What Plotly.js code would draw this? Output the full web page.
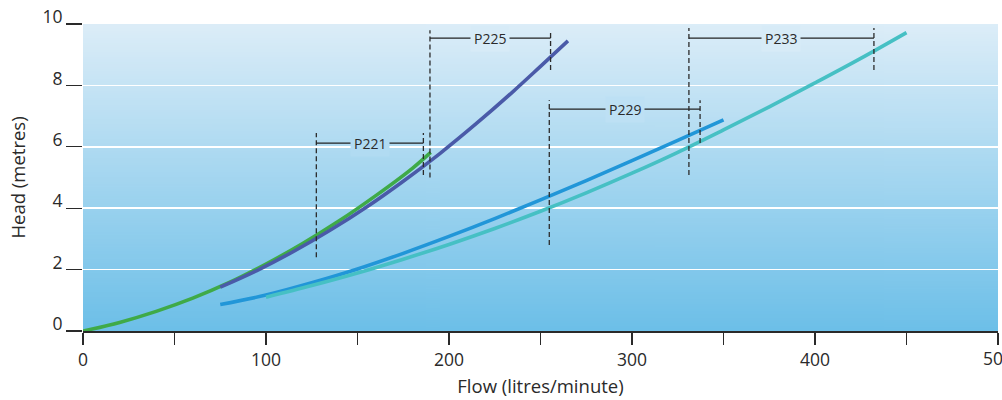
<!DOCTYPE html>
<html>
<head>
<meta charset="utf-8">
<script src="https://cdn.plot.ly/plotly-3.0.1.min.js"></script>
<style>html,body{margin:0;padding:0;background:#fff;}#chart{width:1002px;height:400px;}</style>
</head>
<body>
<div id="chart"></div>
<script>
// ---- data ----
var p221Flow = [0, 20, 40, 60, 80, 100, 120, 140, 160, 180, 190];
var p221Head = [0, 0.28, 0.64, 1.07, 1.58, 2.18, 2.85, 3.59, 4.41, 5.30, 5.82];

var p225Flow = [75, 95, 115, 135, 155, 175, 195, 215, 235, 250, 265];
var p225Head = [1.43, 1.97, 2.59, 3.28, 4.04, 4.88, 5.78, 6.76, 7.80, 8.62, 9.45];

var p229Flow = [75, 100, 125, 150, 175, 200, 225, 250, 275, 300, 325, 350];
var p229Head = [0.86, 1.17, 1.57, 2.02, 2.53, 3.08, 3.66, 4.27, 4.90, 5.55, 6.21, 6.88];

var p233Flow = [100, 125, 150, 175, 200, 225, 250, 275, 300, 325, 350, 375, 400, 425, 450];
var p233Head = [1.10, 1.48, 1.89, 2.34, 2.82, 3.34, 3.90, 4.50, 5.14, 5.82, 6.55, 7.30, 8.08, 8.88, 9.72];

// operating-range brackets
var pumpNames   = ['P221', 'P225', 'P229', 'P233'];
var rangeLo     = [127.5, 189.6, 254.8, 331.1];
var rangeHi     = [186.0, 255.5, 337.2, 432.2];
var bracketHead = [6.12, 9.54, 7.23, 9.54];
var lineTop     = [6.45, 9.80, 7.52, 9.87];
var loBottom    = [2.40, 5.00, 2.80, 5.08];
var hiBottom    = [5.08, 8.50, 6.12, 8.50];

var xTickVals = [0, 50, 100, 150, 200, 250, 300, 350, 400, 450, 500];
var xTickText = ['0', '', '100', '', '200', '', '300', '', '400', '', ''];
var xEdgeLabelVal = 500, xEdgeLabelText = '500';
var yTickVals = [0, 2, 4, 6, 8, 10];

// ---- styling ----
var colors = ['#3faa48', '#4a5aa8', '#2196d8', '#46c0c4'];
var bgTop = [220, 237, 248], bgBottom = [108, 191, 232];
var FONT = 'Open Sans, sans-serif';
var TXT = '#2a2a2a';

function bgAt(frac) { // frac: 0 bottom .. 1 top
  var c = bgBottom.map(function (b, i) { return Math.round(b + (bgTop[i] - b) * frac); });
  return 'rgb(' + c.join(',') + ')';
}

var cv = document.createElement('canvas');
cv.width = 4; cv.height = 256;
var ctx = cv.getContext('2d');
var g = ctx.createLinearGradient(0, 0, 0, 256);
g.addColorStop(0, bgAt(1));
g.addColorStop(1, bgAt(0));
ctx.fillStyle = g;
ctx.fillRect(0, 0, 4, 256);
var bgUrl = cv.toDataURL('image/png');

var series = [[p221Flow, p221Head], [p225Flow, p225Head], [p229Flow, p229Head], [p233Flow, p233Head]];
var traces = series.map(function (s, i) {
  return {
    x: s[0], y: s[1], type: 'scatter', mode: 'lines', name: pumpNames[i],
    line: {color: colors[i], width: 3.6, shape: 'spline', smoothing: 1},
    hoverinfo: 'x+y+name'
  };
});

var shapes = [], annotations = [];
var dashStyle = {color: '#2b2b2b', width: 1.3, dash: '5px,3px'};
for (var i = 0; i < pumpNames.length; i++) {
  shapes.push({type: 'line', xref: 'x', yref: 'y', x0: rangeLo[i], x1: rangeLo[i], y0: loBottom[i], y1: lineTop[i], line: dashStyle, layer: 'above'});
  shapes.push({type: 'line', xref: 'x', yref: 'y', x0: rangeHi[i], x1: rangeHi[i], y0: hiBottom[i], y1: lineTop[i], line: dashStyle, layer: 'above'});
  shapes.push({type: 'line', xref: 'x', yref: 'y', x0: rangeLo[i], x1: rangeHi[i], y0: bracketHead[i], y1: bracketHead[i], line: {color: '#222', width: 1.2}, layer: 'above'});
  annotations.push({
    xref: 'x', yref: 'y', x: (rangeLo[i] + rangeHi[i]) / 2, y: bracketHead[i],
    text: pumpNames[i], showarrow: false, xanchor: 'center', yanchor: 'middle',
    font: {family: FONT, size: 14, color: TXT},
    bgcolor: bgAt(bracketHead[i] / 10), borderpad: 3
  });
}
// last x tick label, which runs off the right edge of the picture (as in the reference)
annotations.push({
  xref: 'x', yref: 'y', x: xEdgeLabelVal, y: 0, yshift: -27,
  text: xEdgeLabelText, showarrow: false, xanchor: 'center', yanchor: 'middle',
  font: {family: FONT, size: 17.5, color: TXT}
});

var layout = {
  width: 1002, height: 400,
  margin: {l: 83, r: 4, t: 24, b: 69},
  paper_bgcolor: '#ffffff',
  plot_bgcolor: bgAt(0.5),
  showlegend: false,
  font: {family: FONT, color: TXT},
  images: [{source: bgUrl, xref: 'paper', yref: 'paper', x: 0, y: 1, sizex: 1, sizey: 1,
            sizing: 'stretch', xanchor: 'left', yanchor: 'top', layer: 'below'}],
  xaxis: {
    range: [0, 500], tickmode: 'array', tickvals: xTickVals, ticktext: xTickText,
    ticks: 'outside', ticklen: 12, tickwidth: 1.3, tickcolor: TXT,
    showline: true, linecolor: TXT, linewidth: 1.5,
    showgrid: false, zeroline: false,
    tickfont: {family: FONT, size: 17.5, color: TXT},
    title: {text: 'Flow (litres/minute)', font: {family: FONT, size: 18.5, color: TXT}, standoff: 10}
  },
  yaxis: {
    range: [0, 10], tickmode: 'array', tickvals: yTickVals,
    ticks: 'outside', ticklen: 16, tickwidth: 1.3, tickcolor: TXT,
    ticklabelshift: -7,
    showline: false, showgrid: true, gridcolor: '#ffffff', gridwidth: 1.5, zeroline: false,
    tickfont: {family: FONT, size: 17.5, color: TXT},
    title: {text: 'Head (metres)', font: {family: FONT, size: 18.5, color: TXT}, standoff: 12}
  },
  shapes: shapes,
  annotations: annotations
};

Plotly.newPlot('chart', traces, layout, {displayModeBar: false, staticPlot: true});
</script>
</body>
</html>
